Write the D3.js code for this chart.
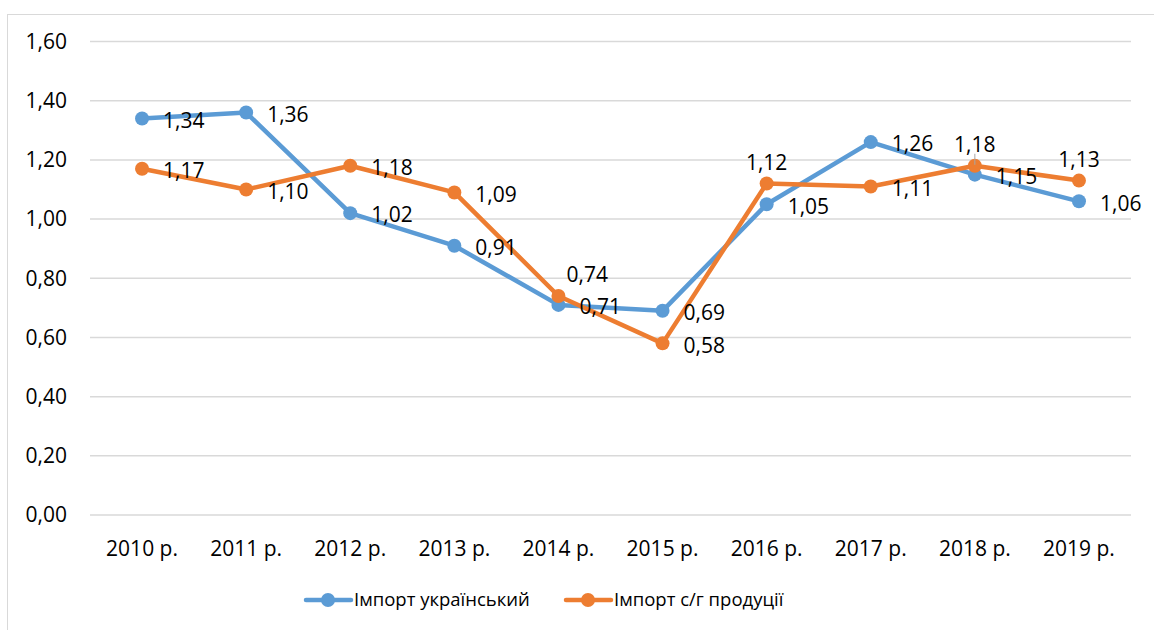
<!DOCTYPE html>
<html>
<head>
<meta charset="utf-8">
<script src="https://cdn.jsdelivr.net/npm/d3@7/dist/d3.min.js"></script>
<style>
  body { margin: 0; background: #fff; }
  text { font-family: "Open Sans", "DejaVu Sans", sans-serif; fill: #000; }
</style>
</head>
<body>
<div id="chart"></div>
<script>
// categories
const years = ["2010 р.", "2011 р.", "2012 р.", "2013 р.", "2014 р.", "2015 р.", "2016 р.", "2017 р.", "2018 р.", "2019 р."];
// series values
const importUkr = [1.34, 1.36, 1.02, 0.91, 0.71, 0.69, 1.05, 1.26, 1.15, 1.06];
const importAgro = [1.17, 1.10, 1.18, 1.09, 0.74, 0.58, 1.12, 1.11, 1.18, 1.13];
const seriesNames = ["Імпорт український", "Імпорт с/г продуції"];
// y ticks
const yTicks = [0, 0.2, 0.4, 0.6, 0.8, 1.0, 1.2, 1.4, 1.6];

const W = 1154, H = 630;
const colors = ["#5B9BD5", "#ED7D31"];
const fmt = v => d3.format(".2f")(v).replace(".", ",");

const svg = d3.select("#chart").append("svg")
  .attr("width", W).attr("height", H);

// chart border
svg.append("rect")
  .attr("x", 7.5).attr("y", 14.5)
  .attr("width", W).attr("height", H)
  .attr("fill", "none").attr("stroke", "#d9d9d9");

const x = d3.scaleBand().domain(years).range([90, 1131]);
const y = d3.scaleLinear().domain([0, 1.6]).range([515, 41.5]);
const cx = d => x(d) + x.bandwidth() / 2;

// gridlines
svg.append("g").selectAll("line")
  .data(yTicks).enter().append("line")
  .attr("x1", 90).attr("x2", 1131)
  .attr("y1", d => y(d)).attr("y2", d => y(d))
  .attr("stroke", "#d9d9d9").attr("stroke-width", 1.5);

// y labels
svg.append("g").selectAll("text")
  .data(yTicks).enter().append("text")
  .attr("x", 67).attr("y", d => y(d))
  .attr("dy", "0.35em")
  .attr("text-anchor", "end")
  .style("font-size", "21px")
  .text(d => fmt(d));

// x labels
svg.append("g").selectAll("text")
  .data(years).enter().append("text")
  .attr("x", d => cx(d)).attr("y", 556)
  .attr("text-anchor", "middle")
  .style("font-size", "21px")
  .text(d => d);

// label placement: [dx, dy, anchor]
const right = [21, 0, "start"];
const labelPos = [
  years.map(() => right),
  years.map((d, i) => {
    if (i === 4) return [8, -23, "start"];
    if (i === 6 || i === 8 || i === 9) return [0, -23, "middle"];
    return right;
  })
];

const line = d3.line().x((d, i) => cx(years[i])).y(d => y(d));

[importUkr, importAgro].forEach((vals, s) => {
  const g = svg.append("g");
  g.append("path")
    .datum(vals)
    .attr("d", line)
    .attr("fill", "none")
    .attr("stroke", colors[s])
    .attr("stroke-width", 4.5)
    .attr("stroke-linejoin", "round");
  g.selectAll("circle")
    .data(vals).enter().append("circle")
    .attr("cx", (d, i) => cx(years[i]))
    .attr("cy", d => y(d))
    .attr("r", 7)
    .attr("fill", colors[s]);
});

// leader line for 2018 orange label
svg.append("line")
  .attr("x1", cx(years[8])).attr("x2", cx(years[8]))
  .attr("y1", y(importAgro[8]) - 12).attr("y2", y(importAgro[8]) - 1)
  .attr("stroke", "#a6a6a6").attr("stroke-width", 1);

// data labels
[importUkr, importAgro].forEach((vals, s) => {
  svg.append("g").selectAll("text")
    .data(vals).enter().append("text")
    .attr("x", (d, i) => cx(years[i]) + labelPos[s][i][0])
    .attr("y", (d, i) => y(d) + labelPos[s][i][1] + 2)
    .attr("dy", "0.35em")
    .attr("text-anchor", (d, i) => labelPos[s][i][2])
    .style("font-size", "21px")
    .text(d => fmt(d));
});

// legend
const legendItems = [[306, 0], [566, 1]];
const lg = svg.append("g");
legendItems.forEach(([lx, s]) => {
  lg.append("line")
    .attr("x1", lx).attr("x2", lx + 45)
    .attr("y1", 600).attr("y2", 600)
    .attr("stroke", colors[s]).attr("stroke-width", 4.5)
    .attr("stroke-linecap", "round");
  lg.append("circle")
    .attr("cx", lx + 22).attr("cy", 600).attr("r", 7)
    .attr("fill", colors[s]);
  lg.append("text")
    .attr("x", lx + 48).attr("y", 600).attr("dy", "0.35em")
    .style("font-size", "18.5px")
    .text(seriesNames[s]);
});
</script>
</body>
</html>
